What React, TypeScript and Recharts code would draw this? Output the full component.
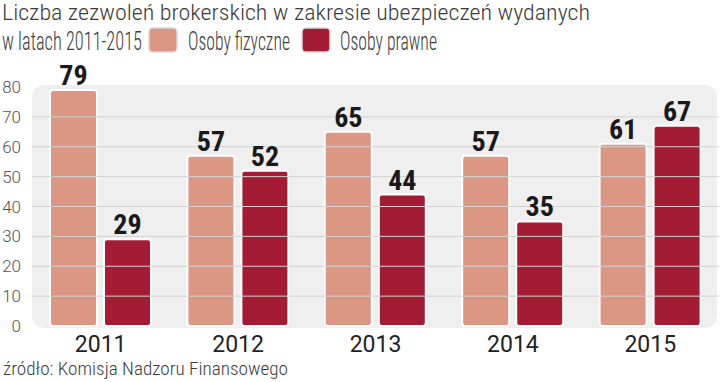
import React from 'react';
import {
  Bar,
  BarChart,
  LabelList,
  ReferenceArea,
  ReferenceLine,
  XAxis,
  YAxis,
} from 'recharts';

const years = ['2011', '2012', '2013', '2014', '2015'];
const osobyFizyczne = [79, 57, 65, 57, 61];
const osobyPrawne = [29, 52, 44, 35, 67];
const yTicks = [0, 10, 20, 30, 40, 50, 60, 70, 80];
const gridTicks = [10, 20, 30, 40, 50, 60, 70];

const data = years.map((year, i) => ({
  year,
  fizyczne: osobyFizyczne[i],
  prawne: osobyPrawne[i],
}));

const LIGHT = '#dc9784';
const DARK = '#a31c34';
const narrow = '"Roboto Condensed", "Liberation Sans Narrow", "DejaVu Sans Condensed", sans-serif';

const YTick = ({ y, payload }: any) => (
  <text x={21} y={y + 6} textAnchor="end" fontSize={17} fill="#555" fontFamily="Roboto, sans-serif" fontWeight={300}>
    {payload.value}
  </text>
);

const XTick = ({ x, payload }: any) => (
  <text x={x} y={352} textAnchor="middle" fontSize={23} fill="#222" fontFamily="Roboto, sans-serif" fontWeight={400}>
    {payload.value}
  </text>
);

const PlotBackground = (p: any) => (
  <rect x={p.x} y={p.y - 2} width={p.width - 2} height={p.height + 4} rx={12} fill="#efefef" />
);

const App = () => {
  return (
    <div style={{ position: 'absolute', left: 0, top: 0, width: 720, height: 382, background: '#fff' }}>
      <BarChart
        width={720}
        height={382}
        data={data}
        margin={{ top: 87, right: 1, left: 0, bottom: 0 }}
        barSize={47}
        barGap={7}
      >
        <XAxis dataKey="year" height={56} axisLine={false} tickLine={false} tick={<XTick />} interval={0} />
        <YAxis width={32} domain={[0, 80]} ticks={yTicks} axisLine={false} tickLine={false} tick={<YTick />} />
        <ReferenceArea y1={0} y2={80} shape={<PlotBackground />} />
        {gridTicks.map((v) => (
          <ReferenceLine key={v} y={v} stroke="#d2d2d2" strokeWidth={1} />
        ))}
        <Bar dataKey="fizyczne" fill={LIGHT} stroke="#fff" strokeWidth={2} radius={3} isAnimationActive={false}>
          <LabelList dataKey="fizyczne" position="top" offset={5} fontSize={28} fontWeight="bold" fill="#1a1a1a" fontFamily={narrow} />
        </Bar>
        <Bar dataKey="prawne" fill={DARK} stroke="#fff" strokeWidth={2} radius={3} isAnimationActive={false}>
          <LabelList dataKey="prawne" position="top" offset={5} fontSize={28} fontWeight="bold" fill="#1a1a1a" fontFamily={narrow} />
        </Bar>
      </BarChart>

      <svg width={720} height={382} style={{ position: 'absolute', left: 0, top: 0, pointerEvents: 'none' }}>
        <g fontFamily={narrow} fill="#3c3c3c" fontWeight={300}>
          <text x={2} y={20} fontSize={22} textLength={588} lengthAdjust="spacingAndGlyphs">
            Liczba zezwoleń brokerskich w zakresie ubezpieczeń wydanych
          </text>
          <text x={2} y={50} fontSize={25} textLength={140} lengthAdjust="spacingAndGlyphs">
            w latach 2011-2015
          </text>
          <rect x={149} y={28} width={28} height={24} rx={4} fill={LIGHT} stroke="#d8d8d8" strokeWidth={1.5} />
          <text x={188} y={50} fontSize={25} textLength={102} lengthAdjust="spacingAndGlyphs">
            Osoby fizyczne
          </text>
          <rect x={302} y={28} width={28} height={24} rx={4} fill={DARK} stroke="#d8d8d8" strokeWidth={1.5} />
          <text x={340} y={50} fontSize={25} textLength={97} lengthAdjust="spacingAndGlyphs">
            Osoby prawne
          </text>
          <text x={3} y={375} fontSize={18} textLength={285} lengthAdjust="spacingAndGlyphs">
            źródło: Komisja Nadzoru Finansowego
          </text>
        </g>
      </svg>
    </div>
  );
};

export default App;
